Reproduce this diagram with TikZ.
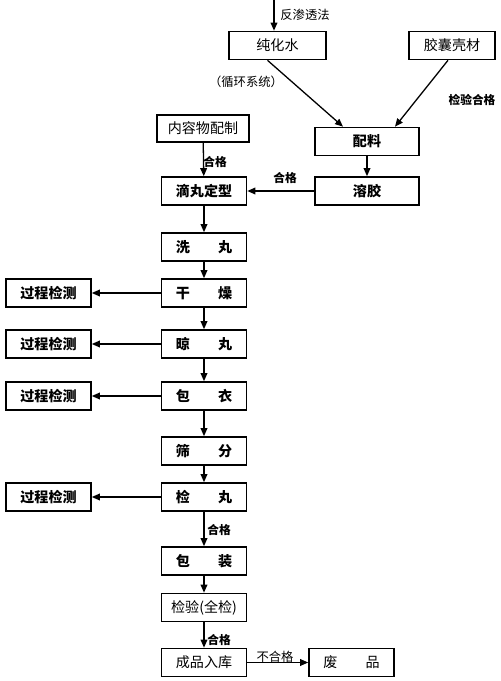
\documentclass[tikz,border=0pt]{standalone}
\usepackage{fontspec}
\setmainfont{Noto Sans CJK SC}
\usetikzlibrary{arrows.meta,positioning,calc}

\tikzset{
  stepbox/.style={draw, line width=1.4pt, minimum width=2.55cm, minimum height=0.84cm,
    inner sep=0pt, font=\fontsize{12pt}{14pt}\selectfont},
  boldbox/.style={stepbox, font=\fontsize{12pt}{14pt}\selectfont\bfseries},
  flow/.style={-{Triangle[length=2.4mm,width=2mm]}, line width=1.1pt},
  note/.style={font=\fontsize{10.5pt}{12pt}\selectfont, inner sep=1pt},
  boldnote/.style={note, font=\fontsize{10pt}{12pt}\selectfont\bfseries}
}

\begin{document}
\begin{tikzpicture}[x=0.03cm, y=-0.03cm]
    \useasboundingbox (0,0) rectangle (500,681);

    % Raw materials
    \coordinate (ro-in) at (274,0);
    \node[stepbox, minimum width=2.91cm] (water) at (277.5,45.5) {纯化水};
    \node[stepbox, minimum width=2.58cm] (shell) at (452,45.5) {胶囊壳材};
    \node[boldbox, minimum width=3.12cm] (mix) at (367,141.5) {配料};
    \node[boldbox, minimum width=3.12cm] (melt) at (367,191) {溶胶};
    \node[stepbox, minimum width=2.76cm, minimum height=0.81cm] (fill) at (203,128.5) {内容物配制};

    % Main process column
    \foreach \name/\txt/\y in {drop/滴丸定型/191, wash/洗\hspace{2em}丸/247,
        dry/干\hspace{2em}燥/293, cool/晾\hspace{2em}丸/344, coat/包\hspace{2em}衣/396,
        sieve/筛\hspace{2em}分/451, inspect/检\hspace{2em}丸/497, pack/包\hspace{2em}装/561} {
        \node[boldbox] (\name) at (204,\y) {\txt};
    }
    \node[stepbox] (check) at (204,607.5) {检验(全检)};
    \node[stepbox] (store) at (204,662.5) {成品入库};
    \node[stepbox] (waste) at (351.5,662.5) {废\hspace{2em}品};

    % Process checks
    \foreach \n/\y in {dry/293, cool/344, coat/396, inspect/497} {
        \node[boldbox] (test-\n) at (48.5,\y) {过程检测};
        \draw[flow] (\n) -- (test-\n);
    }

    % Arrows
    \draw[flow] (ro-in) -- (ro-in |- water.north);
    \draw[flow] ($(water.south)+(-10,0)$) -- ($(mix.north)+(-24,0)$);
    \draw[flow] ($(shell.south)+(-4,0)$) -- ($(mix.north)+(28,0)$);
    \draw[flow] (mix) -- (melt);
    \draw[flow] (melt) -- (drop);
    \draw[flow] (fill) -- (drop);
    \foreach \a/\b in {drop/wash, wash/dry, dry/cool, cool/coat, coat/sieve,
        sieve/inspect, inspect/pack, pack/check, check/store} {
        \draw[flow] (\a) -- (\b);
    }
    \draw[flow] (store) -- (waste);

    % Labels
    \node[note, right] (ro) at (279,15) {反渗透法};
    \node[note] (loop) at (246,82) {（循环系统）};
    \node[boldnote] (shell-ok) at (472,100) {检验合格};
    \node[boldnote, right] (fill-ok) at (202,162) {合格};
    \node[boldnote] (melt-ok) at (285,178) {合格};
    \node[boldnote, right] (inspect-ok) at (206,530) {合格};
    \node[boldnote, right] (check-ok) at (206,640) {合格};
    \node[note] (store-bad) at (275,657) {不合格};
\end{tikzpicture}
\end{document}
